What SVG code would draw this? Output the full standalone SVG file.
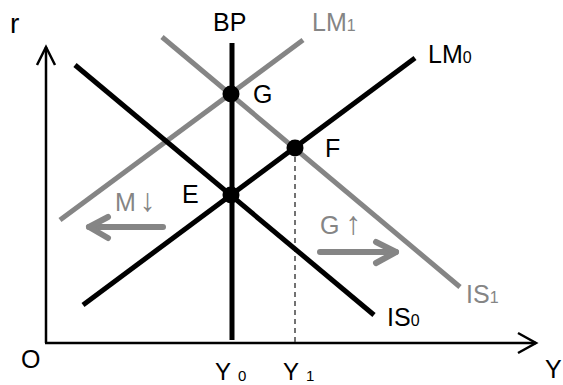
<svg xmlns="http://www.w3.org/2000/svg" width="563" height="385" viewBox="0 0 563 385">
<style>
text{font-family:"Liberation Sans",Arial,sans-serif;font-size:25px;fill:#000}
.g{fill:#858585}
.sub{font-size:16px}
.ar{font-size:32px}
.blk{stroke:#000;stroke-width:5;fill:none}
.gry{stroke:#858585;stroke-width:5;fill:none}
.axis{stroke:#000;stroke-width:2.5;fill:none}
.arr{stroke:#858585;stroke-width:6;fill:none;stroke-linecap:round;stroke-linejoin:round}
</style>
<rect width="563" height="385" fill="#fff"/>
<g id="connectors">
<polyline class="axis" points="46,343 46,47"/>
<polyline class="axis" points="37,65 46,47 55,65"/>
<polyline class="axis" points="45,343 536,343"/>
<polyline class="axis" points="518,333 536,343 518,353"/>
<line x1="295" y1="148" x2="295" y2="342" stroke="#444" stroke-width="1.5" stroke-dasharray="5,4"/>
<line class="gry" x1="60" y1="220" x2="303" y2="40"/>
<line class="gry" x1="162" y1="37" x2="460" y2="287"/>
<line class="blk" x1="83" y1="305" x2="415" y2="58"/>
<line class="blk" x1="75" y1="65" x2="374" y2="315"/>
<line class="blk" x1="232" y1="43" x2="232" y2="340"/>
<line class="arr" x1="163" y1="227" x2="89" y2="227"/>
<polyline class="arr" points="108,217 89,227 108,238"/>
<line class="arr" x1="320" y1="252" x2="396" y2="252"/>
<polyline class="arr" points="376,242 396,252 376,263"/>
</g>
<g id="axes-labels">
<text x="10" y="33" style="font-size:28px">r</text>
<text x="21" y="368">O</text>
<text x="545" y="378">Y</text>
<text x="215" y="380" style="font-size:24px">Y</text><text x="238" y="381" class="sub" style="font-size:15px">0</text>
<text x="283" y="380" style="font-size:24px">Y</text><text x="306" y="381" class="sub" style="font-size:15px">1</text>
</g>
<g id="BP"><text x="213" y="31">BP</text></g>
<g id="LM1"><text x="312" y="31" class="g">LM<tspan class="sub">1</tspan></text></g>
<g id="LM0"><text x="428" y="63">LM<tspan class="sub">0</tspan></text></g>
<g id="IS0"><text x="387" y="326">IS<tspan class="sub">0</tspan></text></g>
<g id="IS1"><text x="466" y="303" class="g">IS<tspan class="sub">1</tspan></text></g>
<g id="G"><circle cx="231" cy="94" r="8.5"/><text x="253" y="103">G</text></g>
<g id="E"><circle cx="231" cy="195" r="8.5"/><text x="182" y="203">E</text></g>
<g id="F"><circle cx="295" cy="148" r="8.5"/><text x="325" y="157">F</text></g>
<g id="Mdown"><text x="115" y="211" class="g">M<tspan class="ar" dx="4">↓</tspan></text></g>
<g id="Gup"><text x="320" y="234" class="g">G<tspan class="ar" dx="6">↑</tspan></text></g>
</svg>
